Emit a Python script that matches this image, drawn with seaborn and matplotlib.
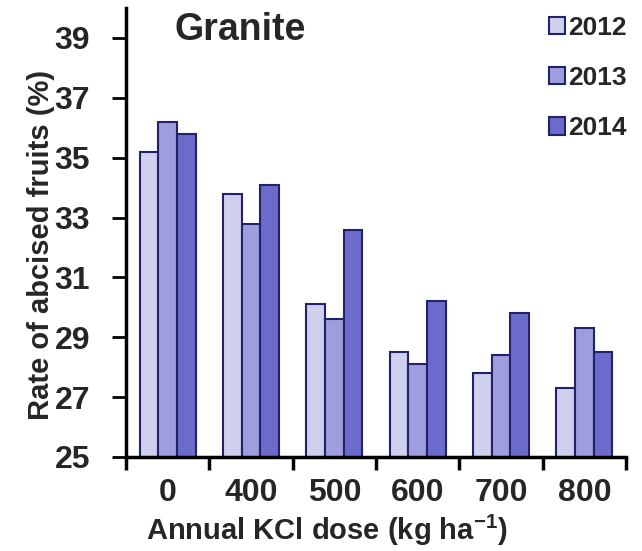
import numpy as np
import pandas as pd
import matplotlib
matplotlib.use("Agg")
import matplotlib.pyplot as plt
import seaborn as sns
from matplotlib.patches import Patch

doses = ["0", "400", "500", "600", "700", "800"]
years = ["2012", "2013", "2014"]
v2012 = [35.2, 33.8, 30.1, 28.5, 27.8, 27.3]
v2013 = [36.2, 32.8, 29.6, 28.1, 28.4, 29.3]
v2014 = [35.8, 34.1, 32.6, 30.2, 29.8, 28.5]
yticks = [25, 27, 29, 31, 33, 35, 37, 39]
colors = ["#CFCFEE", "#9E9EDE", "#6B6BCC"]
edge = "#22226A"

df = pd.DataFrame({
    "dose": doses * 3,
    "year": [years[0]] * 6 + [years[1]] * 6 + [years[2]] * 6,
    "value": v2012 + v2013 + v2014,
})

sns.set_theme(style="white")
plt.rcParams["font.family"] = ["Liberation Sans", "DejaVu Sans"]
plt.rcParams["font.weight"] = "bold"
plt.rcParams["mathtext.fontset"] = "custom"
plt.rcParams["mathtext.rm"] = "Liberation Sans:bold"
plt.rcParams["mathtext.bf"] = "Liberation Sans:bold"
plt.rcParams["mathtext.default"] = "bf"

fig = plt.figure(figsize=(6.42, 5.51), dpi=100)
ax = fig.add_axes([126 / 642, 1 - 457 / 551, 500 / 642, 449 / 551])

sns.barplot(data=df, x="dose", y="value", hue="year", order=doses,
            hue_order=years, palette=colors, saturation=1, width=0.67, ax=ax,
            edgecolor=edge, linewidth=1.5, legend=False)

ax.set_ylim(25, 40)
ax.set_xlim(-0.5, 5.5)
ax.set_yticks(yticks)
ax.set_yticklabels([str(t) for t in yticks], fontsize=23, fontweight="bold")
ax.set_xticks(range(6))
ax.set_xticklabels(doses, fontsize=23, fontweight="bold")
ax.set_xticks(np.arange(-0.5, 6.0, 1.0), minor=True)
ax.tick_params(axis="x", which="major", length=0, pad=15)
ax.tick_params(axis="x", which="minor", length=9, width=2.5, direction="out",
               color="black", bottom=True)
ax.tick_params(axis="y", which="major", length=10, width=2, direction="out",
               color="black", left=True, pad=16)

for s in ["top", "right"]:
    ax.spines[s].set_visible(False)
for s in ["left", "bottom"]:
    ax.spines[s].set_color("black")
    ax.spines[s].set_linewidth(2.5)

ax.set_xlabel("Annual KCl dose (kg ha$^{-1}$)", fontsize=21, fontweight="bold")
ax.set_ylabel("Rate of abcised fruits (%)", fontsize=21, fontweight="bold")
ax.xaxis.set_label_coords(0.402, -0.125)
ax.yaxis.set_label_coords(-0.142, 0.472)

fig.text(240 / 642, 1 - 30 / 551, "Granite", fontsize=27, fontweight="bold",
         ha="center", va="center")

handles = [Patch(facecolor=c, edgecolor=edge, linewidth=1.5) for c in colors]
fig.legend(handles, years, loc="upper left", bbox_to_anchor=(538 / 642, 1 - 5 / 551),
           frameon=False, handlelength=0.62, handleheight=0.62,
           handletextpad=0.12, labelspacing=1.0, borderaxespad=0,
           prop={"weight": "bold", "size": 19})

fig.savefig("out.png", dpi=100)
